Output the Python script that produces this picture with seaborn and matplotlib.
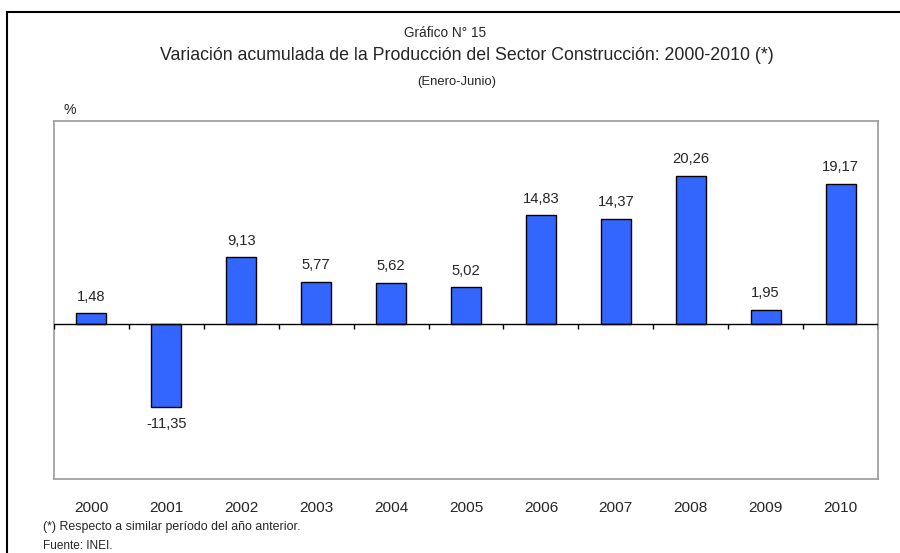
import numpy as np
import pandas as pd
import matplotlib
matplotlib.use('Agg')
import matplotlib.pyplot as plt
from matplotlib.lines import Line2D
from matplotlib import font_manager
import seaborn as sns

years = ['2000', '2001', '2002', '2003', '2004', '2005', '2006', '2007', '2008', '2009', '2010']
valores = [1.48, -11.35, 9.13, 5.77, 5.62, 5.02, 14.83, 14.37, 20.26, 1.95, 19.17]

df = pd.DataFrame({'anio': years, 'var': valores})

sns.set_style('white')
nombres = {f.name for f in font_manager.fontManager.ttflist}
if 'Liberation Sans Narrow' in nombres:
    fam = ['Liberation Sans Narrow', 'DejaVu Sans']
    k = 1.0
else:
    fam = ['Liberation Sans', 'DejaVu Sans']
    k = 0.85
plt.rcParams['font.family'] = fam

fig = plt.figure(figsize=(9, 5.53), dpi=100)
ax = fig.add_axes([54/900, 1-479/553, (878-54)/900, (479-121)/553])

sns.barplot(data=df, x='anio', y='var', color='#3366FF', edgecolor='black',
            linewidth=1, width=0.4, saturation=1, ax=ax)

ax.set_ylim(-21.1, 27.7)
ax.set_xlim(-0.5, len(years) - 0.5)
ax.axhline(0, color='black', lw=1, zorder=3)
# marcas sobre el eje cero, entre categorias
ax.vlines(np.arange(len(years) + 1) - 0.5, -0.7, 0, color='black', lw=1, zorder=3)

etiquetas = [f'{v:.2f}'.replace('.', ',') for v in valores]
ax.bar_label(ax.containers[0], labels=etiquetas, padding=7, fontsize=12.5*k)

ax.set_yticks([])
ax.set_xlabel('')
ax.set_ylabel('')
ax.tick_params(axis='x', length=0, pad=16, labelsize=13*k)
for s in ax.spines.values():
    s.set_color('#9a9a9a')
    s.set_linewidth(1.2)

fig.text(445/900, 1-33/553, 'Gráfico N° 15', ha='center', va='center', fontsize=11.5*k)
fig.text(467/900, 1-56/553, 'Variación acumulada de la Producción del Sector Construcción: 2000-2010 (*)',
         ha='center', va='center', fontsize=15*k)
fig.text(457/900, 1-82/553, '(Enero-Junio)', ha='center', va='center', fontsize=11*k)
fig.text(63/900, 1-110/553, '%', ha='left', va='center', fontsize=12*k)
fig.text(43/900, 1-527/553, '(*) Respecto a similar período del año anterior.', ha='left', va='center', fontsize=10.5*k)
fig.text(43/900, 1-546/553, 'Fuente: INEI.', ha='left', va='center', fontsize=10*k)

# marco exterior
fig.add_artist(Line2D([7/900, 7/900], [0, 1-12/553], color='black', lw=1.5, transform=fig.transFigure))
fig.add_artist(Line2D([7/900, 1], [1-12/553, 1-12/553], color='black', lw=1.5, transform=fig.transFigure))

fig.savefig('out.png', dpi=100)
